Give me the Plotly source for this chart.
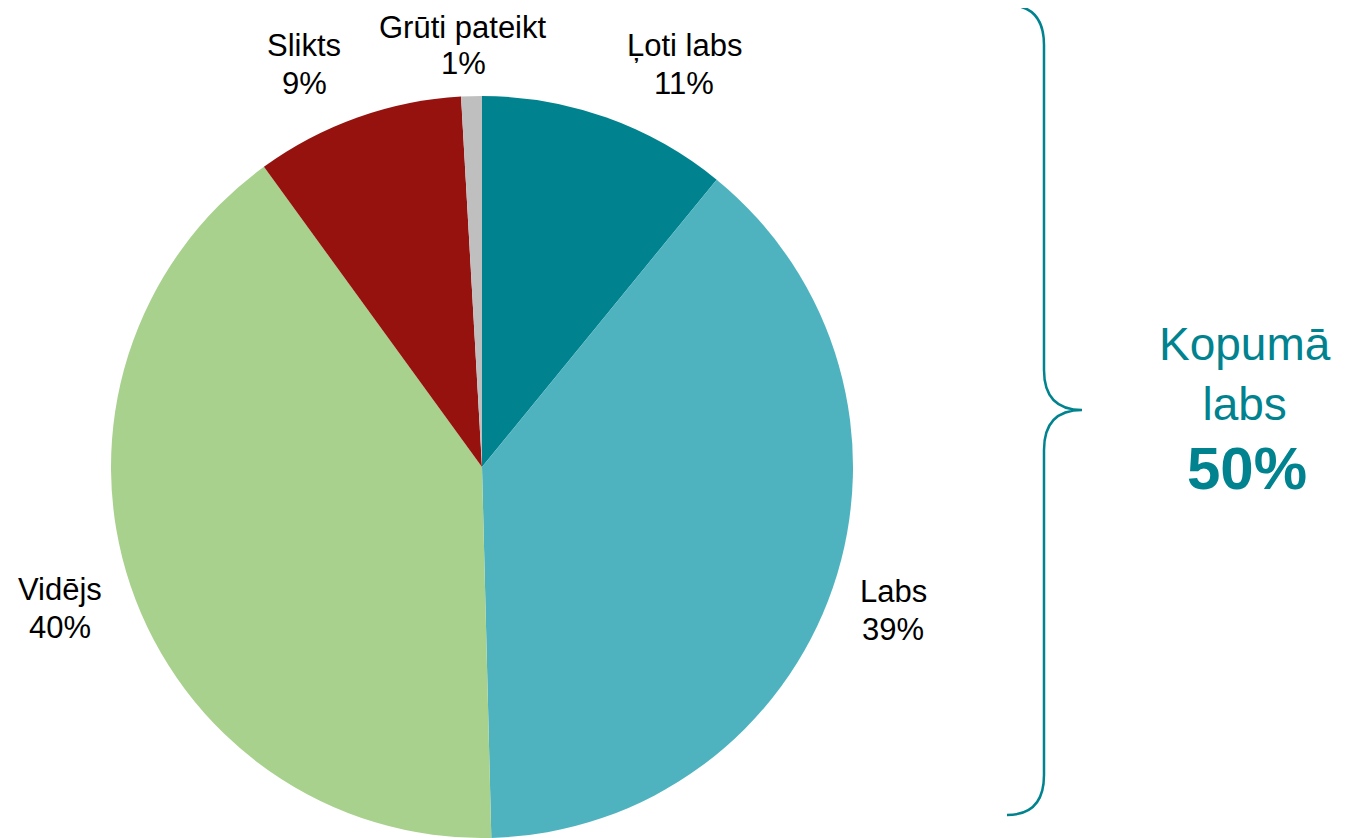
import plotly.graph_objects as go

# data
labels = ["Ļoti labs", "Labs", "Vidējs", "Slikts", "Grūti pateikt"]
values = [10.9, 38.7, 40.4, 9.1, 0.9]
pct_text = ["11%", "39%", "40%", "9%", "1%"]
colors = ["#00838F", "#4FB3BF", "#A9D18E", "#96120F", "#BFBFBF"]

total_label = "Kopumā<br>labs"
total_value = "50%"

# page is 1350x838 but the html body has an 8px margin
OFF = 8
W, H = 1350 - OFF, 838 - OFF
TEAL = "#00838F"
FONT = "Liberation Sans, Arial, sans-serif"


def px2paper(x, y):
    # page pixel -> paper coordinate
    return (x - OFF) / W, 1 - (y - OFF) / H


fig = go.Figure()
fig.add_trace(go.Pie(
    labels=labels,
    values=values,
    sort=False,
    direction="clockwise",
    rotation=0,
    marker=dict(colors=colors, line=dict(width=0)),
    textinfo="none",
    hoverinfo="label+percent",
    domain=dict(x=[px2paper(482 - 371, 0)[0], px2paper(482 + 371, 0)[0]],
                y=[0, px2paper(0, 96)[1]]),
    showlegend=False,
))

# slice labels, one annotation per line (pixel centres of the two lines)
label_pos = [(684, 46, 84), (893, 591, 629), (60, 589, 627),
             (304, 46, 84), (463, 27, 63)]
for name, pct, (lx, y1, y2) in zip(labels, pct_text, label_pos):
    for txt, ly in ((name, y1), (pct, y2)):
        ax, ay = px2paper(lx, ly)
        fig.add_annotation(
            x=ax, y=ay, xref="paper", yref="paper",
            text=txt, showarrow=False, borderpad=0,
            font=dict(family=FONT, size=31, color="#000000"),
            xanchor="center", yanchor="middle",
        )


# curly brace
def p(x, y):
    a, b = px2paper(x, y)
    return f"{a:.5f},{b:.5f}"


brace = (f"M {p(1007, 5)} Q {p(1044, 5)} {p(1044, 45)} L {p(1044, 370)} "
         f"Q {p(1044, 410)} {p(1082, 410)} Q {p(1044, 410)} {p(1044, 450)} "
         f"L {p(1044, 775)} Q {p(1044, 815)} {p(1007, 815)}")
fig.add_shape(type="path", path=brace, xref="paper", yref="paper",
              line=dict(color=TEAL, width=2.5))

tx, ty = px2paper(1245, 374)
fig.add_annotation(
    x=tx, y=ty, xref="paper", yref="paper",
    text=total_label, showarrow=False,
    font=dict(family=FONT, size=46, color=TEAL),
    xanchor="center", yanchor="middle", align="center",
)
vx, vy = px2paper(1247, 468)
fig.add_annotation(
    x=vx, y=vy, xref="paper", yref="paper",
    text=f"<b>{total_value}</b>", showarrow=False,
    font=dict(family=FONT, size=60, color=TEAL),
    xanchor="center", yanchor="middle",
)

fig.update_layout(
    width=W, height=H,
    margin=dict(l=0, r=0, t=0, b=0),
    paper_bgcolor="white", plot_bgcolor="white",
)

fig.write_html("out.html")
